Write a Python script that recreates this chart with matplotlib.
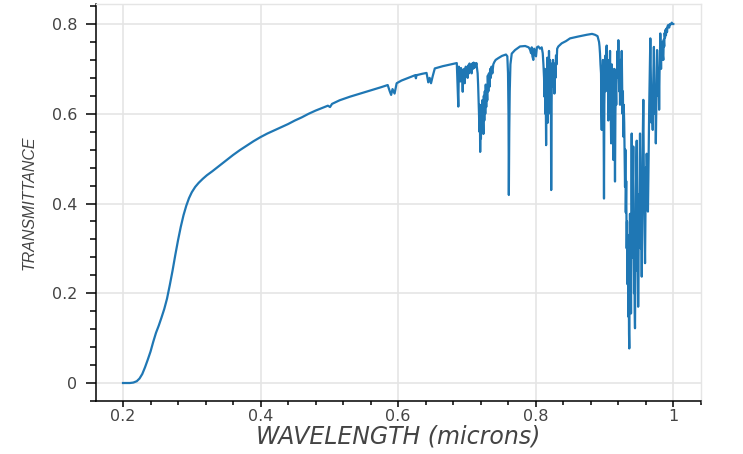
import matplotlib
matplotlib.use("Agg")
import matplotlib.pyplot as plt
from matplotlib.ticker import FixedLocator, MultipleLocator

# smooth UV rise and continuum
smooth_wl = [0.200, 0.205, 0.210, 0.215, 0.220, 0.224, 0.228, 0.232, 0.236, 0.240,
             0.244, 0.248, 0.252, 0.256, 0.260, 0.264, 0.268, 0.272, 0.276, 0.280,
             0.284, 0.288, 0.292, 0.296, 0.300, 0.305, 0.310, 0.316, 0.322, 0.330,
             0.340, 0.350, 0.360, 0.370, 0.380, 0.390, 0.400, 0.410, 0.420, 0.430,
             0.440, 0.450, 0.460, 0.470, 0.480, 0.490, 0.498, 0.5011, 0.504, 0.515,
             0.530, 0.545, 0.560, 0.575, 0.585, 0.588, 0.590, 0.592, 0.595, 0.598,
             0.605, 0.615, 0.625, 0.626, 0.627, 0.635, 0.6415, 0.644, 0.646, 0.648,
             0.6505, 0.6535, 0.665, 0.680, 0.6855]
smooth_tr = [0.000, 0.000, 0.000, 0.001, 0.004, 0.010, 0.020, 0.035, 0.052, 0.070,
             0.092, 0.112, 0.128, 0.146, 0.165, 0.188, 0.218, 0.250, 0.285, 0.318,
             0.348, 0.374, 0.395, 0.412, 0.425, 0.437, 0.446, 0.455, 0.463, 0.472,
             0.484, 0.496, 0.508, 0.519, 0.529, 0.539, 0.548, 0.556, 0.563, 0.570,
             0.577, 0.585, 0.592, 0.600, 0.607, 0.613, 0.618, 0.615, 0.622, 0.630,
             0.638, 0.645, 0.652, 0.659, 0.664, 0.650, 0.642, 0.655, 0.645, 0.668,
             0.674, 0.680, 0.686, 0.679, 0.686, 0.689, 0.691, 0.670, 0.680, 0.668,
             0.684, 0.701, 0.706, 0.711, 0.713]

# absorption bands 0.69 - 0.89
band1_wl = [0.6877, 0.6885, 0.6893, 0.6900, 0.6908, 0.6916, 0.6925, 0.6933, 0.6941, 0.6948,
            0.6955, 0.6962, 0.6970, 0.6978, 0.6986, 0.6995, 0.7004, 0.7013, 0.7022, 0.7031,
            0.7040, 0.7050, 0.7060, 0.7070, 0.7080, 0.7090, 0.7100, 0.7110, 0.7120, 0.7130,
            0.7140, 0.7150, 0.7158, 0.7165, 0.7172, 0.7178, 0.7184, 0.7190, 0.7195, 0.7200,
            0.7206, 0.7212, 0.7218, 0.7224, 0.7230, 0.7236, 0.7242, 0.7248, 0.7255, 0.7262,
            0.7269, 0.7276, 0.7283, 0.7290, 0.7298, 0.7306, 0.7314, 0.7322, 0.7330, 0.7340,
            0.7350, 0.7360, 0.7372, 0.7386, 0.7400, 0.7420, 0.7459, 0.7513, 0.7570, 0.7590,
            0.7600, 0.7607, 0.7612, 0.7618, 0.7625, 0.7635, 0.7654, 0.7702, 0.7775, 0.7850,
            0.7900, 0.7920, 0.7935, 0.7945, 0.7955, 0.7968, 0.7980, 0.7993, 0.8007, 0.8020,
            0.8041, 0.8065, 0.8090, 0.8105, 0.8115, 0.8124, 0.8130, 0.8136, 0.8142, 0.8148,
            0.8154, 0.8160, 0.8166, 0.8172, 0.8178, 0.8184, 0.8190, 0.8196, 0.8203, 0.8210,
            0.8216, 0.8222, 0.8228, 0.8234, 0.8240, 0.8247, 0.8254, 0.8261, 0.8268, 0.8275,
            0.8282, 0.8290, 0.8298, 0.8306, 0.8315, 0.8332, 0.8381, 0.8444, 0.8502, 0.8618,
            0.8745, 0.8822, 0.8865, 0.8902]
band1_tr = [0.616, 0.705, 0.680, 0.700, 0.672, 0.702, 0.688, 0.698, 0.649, 0.695,
            0.675, 0.700, 0.668, 0.690, 0.705, 0.685, 0.700, 0.680, 0.708, 0.690,
            0.712, 0.695, 0.708, 0.690, 0.712, 0.700, 0.714, 0.702, 0.712, 0.705,
            0.713, 0.700, 0.690, 0.665, 0.630, 0.600, 0.560, 0.620, 0.515, 0.590,
            0.545, 0.610, 0.560, 0.630, 0.575, 0.600, 0.555, 0.640, 0.585, 0.650,
            0.600, 0.665, 0.615, 0.660, 0.630, 0.685, 0.650, 0.690, 0.660, 0.700,
            0.680, 0.705, 0.690, 0.710, 0.715, 0.720, 0.724, 0.729, 0.732, 0.728,
            0.690, 0.600, 0.419, 0.560, 0.650, 0.710, 0.734, 0.742, 0.750, 0.751,
            0.748, 0.743, 0.735, 0.748, 0.728, 0.720, 0.745, 0.738, 0.728, 0.748,
            0.750, 0.745, 0.748, 0.735, 0.710, 0.680, 0.638, 0.700, 0.600, 0.660,
            0.530, 0.690, 0.620, 0.725, 0.580, 0.700, 0.640, 0.740, 0.650, 0.720,
            0.600, 0.700, 0.430, 0.620, 0.712, 0.680, 0.720, 0.660, 0.700, 0.645,
            0.712, 0.680, 0.730, 0.710, 0.745, 0.750, 0.757, 0.762, 0.768, 0.772,
            0.776, 0.778, 0.776, 0.773]

# strong band 0.89 - 1.0
band2_wl = [0.8924, 0.8931, 0.8938, 0.8945, 0.8953, 0.8958, 0.8963, 0.8969, 0.8975, 0.8981,
            0.8986, 0.8991, 0.8996, 0.9001, 0.9007, 0.9012, 0.9018, 0.9024, 0.9030, 0.9035,
            0.9041, 0.9047, 0.9053, 0.9059, 0.9065, 0.9072, 0.9078, 0.9084, 0.9090, 0.9095,
            0.9100, 0.9105, 0.9110, 0.9115, 0.9120, 0.9126, 0.9132, 0.9138, 0.9144, 0.9150,
            0.9156, 0.9162, 0.9168, 0.9174, 0.9181, 0.9187, 0.9193, 0.9199, 0.9205, 0.9211,
            0.9218, 0.9224, 0.9229, 0.9235, 0.9241, 0.9247, 0.9254, 0.9260, 0.9265, 0.9271,
            0.9277, 0.9283, 0.9290, 0.9296, 0.9302, 0.9307, 0.9313, 0.9319, 0.9326, 0.9331,
            0.9338, 0.9343, 0.9349, 0.9355, 0.9360, 0.9364, 0.9369, 0.9374, 0.9380, 0.9385,
            0.9389, 0.9394, 0.9399, 0.9405, 0.9411, 0.9416, 0.9422, 0.9428, 0.9433, 0.9438,
            0.9442, 0.9447, 0.9453, 0.9459, 0.9465, 0.9472, 0.9477, 0.9482, 0.9488, 0.9493,
            0.9498, 0.9504, 0.9510, 0.9516, 0.9520, 0.9526, 0.9532, 0.9538, 0.9545, 0.9550,
            0.9556, 0.9562, 0.9568, 0.9574, 0.9581, 0.9587, 0.9593, 0.9599, 0.9605, 0.9611,
            0.9617, 0.9623, 0.9629, 0.9635, 0.9641, 0.9648, 0.9654, 0.9660, 0.9665, 0.9670,
            0.9676, 0.9682, 0.9687, 0.9693, 0.9699, 0.9705, 0.9710, 0.9716, 0.9722, 0.9727,
            0.9733, 0.9738, 0.9744, 0.9750, 0.9756, 0.9762, 0.9768, 0.9774, 0.9780, 0.9786,
            0.9792, 0.9798, 0.9804, 0.9810, 0.9815, 0.9820, 0.9826, 0.9832, 0.9839, 0.9845,
            0.9852, 0.9859, 0.9865, 0.9872, 0.9878, 0.9884, 0.9890, 0.9897, 0.9905, 0.9913,
            0.9920, 0.9932, 0.9944, 0.9956, 0.9968, 0.9981, 0.9992, 1.0004]
band2_tr = [0.760, 0.750, 0.734, 0.710, 0.690, 0.600, 0.564, 0.680, 0.640, 0.720,
            0.620, 0.560, 0.411, 0.620, 0.690, 0.650, 0.730, 0.680, 0.740, 0.752,
            0.700, 0.650, 0.700, 0.585, 0.660, 0.720, 0.690, 0.740, 0.640, 0.600,
            0.534, 0.650, 0.710, 0.620, 0.690, 0.560, 0.497, 0.620, 0.700, 0.560,
            0.449, 0.600, 0.660, 0.620, 0.700, 0.680, 0.740, 0.700, 0.764, 0.700,
            0.650, 0.700, 0.620, 0.680, 0.720, 0.680, 0.740, 0.660, 0.600, 0.650,
            0.549, 0.620, 0.580, 0.500, 0.437, 0.520, 0.380, 0.450, 0.300, 0.360,
            0.220, 0.330, 0.148, 0.250, 0.110, 0.077, 0.260, 0.377, 0.200, 0.320,
            0.155, 0.420, 0.556, 0.380, 0.280, 0.450, 0.527, 0.300, 0.200, 0.350,
            0.160, 0.122, 0.280, 0.400, 0.480, 0.540, 0.380, 0.250, 0.300, 0.170,
            0.260, 0.420, 0.350, 0.500, 0.556, 0.400, 0.300, 0.380, 0.237, 0.350,
            0.500, 0.560, 0.631, 0.500, 0.400, 0.330, 0.267, 0.380, 0.480, 0.430,
            0.511, 0.470, 0.420, 0.382, 0.450, 0.550, 0.620, 0.679, 0.720, 0.768,
            0.700, 0.620, 0.580, 0.640, 0.600, 0.564, 0.650, 0.700, 0.749, 0.690,
            0.620, 0.600, 0.650, 0.534, 0.610, 0.680, 0.742, 0.700, 0.680, 0.640,
            0.700, 0.609, 0.690, 0.730, 0.779, 0.740, 0.700, 0.750, 0.720, 0.760,
            0.730, 0.720, 0.765, 0.750, 0.780, 0.770, 0.787, 0.775, 0.790, 0.782,
            0.795, 0.798, 0.792, 0.800, 0.799, 0.803, 0.800, 0.800]

wavelength = smooth_wl + band1_wl + band2_wl
transmittance = smooth_tr + band1_tr + band2_tr

x_ticks = [0.2, 0.4, 0.6, 0.8, 1.0]
x_tick_labels = ['0.2', '0.4', '0.6', '0.8', '1']
y_ticks = [0.0, 0.2, 0.4, 0.6, 0.8]
y_tick_labels = ['0', '0.2', '0.4', '0.6', '0.8']

W, H = 743, 454
fig = plt.figure(figsize=(W / 100, H / 100), dpi=100)
ax = fig.add_axes([96 / W, 1 - 401 / H, (701 - 96) / W, (401 - 4) / H])

ax.plot(wavelength, transmittance, color='#1f77b4', lw=1.6)

ax.set_xlim(0.1607, 1.0407)
ax.set_ylim(-0.0401, 0.8446)

ax.xaxis.set_major_locator(FixedLocator(x_ticks))
ax.set_xticklabels(x_tick_labels)
ax.yaxis.set_major_locator(FixedLocator(y_ticks))
ax.set_yticklabels(y_tick_labels)
ax.xaxis.set_minor_locator(MultipleLocator(0.04))
ax.yaxis.set_minor_locator(MultipleLocator(0.04))

grid_c = '#e5e5e5'
ax.grid(True, which='major', color=grid_c, lw=1.2)
ax.set_axisbelow(True)
for side in ['top', 'right']:
    ax.spines[side].set_color(grid_c)
    ax.spines[side].set_linewidth(1.0)
for side in ['left', 'bottom']:
    ax.spines[side].set_color('black')
    ax.spines[side].set_linewidth(1.1)

ax.tick_params(axis='y', which='major', direction='out', length=7.5, width=1.1,
               colors='black', labelcolor='#444444', labelsize=11.5, pad=6)
ax.tick_params(axis='y', which='minor', direction='out', length=4.5, width=1.1, colors='black')
ax.tick_params(axis='x', which='major', direction='out', length=4.5, width=1.1,
               colors='black', labelcolor='#444444', labelsize=11.5, pad=1.5)
ax.tick_params(axis='x', which='minor', direction='out', length=2.6, width=1.1, colors='black')
for lbl in ax.get_xticklabels() + ax.get_yticklabels():
    lbl.set_family('DejaVu Sans')

ax.set_xlabel('WAVELENGTH (microns)', fontsize=17, style='italic', color='#444444',
              family=['DejaVu Sans'], labelpad=0)
ax.set_ylabel('TRANSMITTANCE', fontsize=11.5, style='italic', color='#444444',
              family=['Liberation Sans'], labelpad=11)

fig.savefig('out.png', dpi=100)
